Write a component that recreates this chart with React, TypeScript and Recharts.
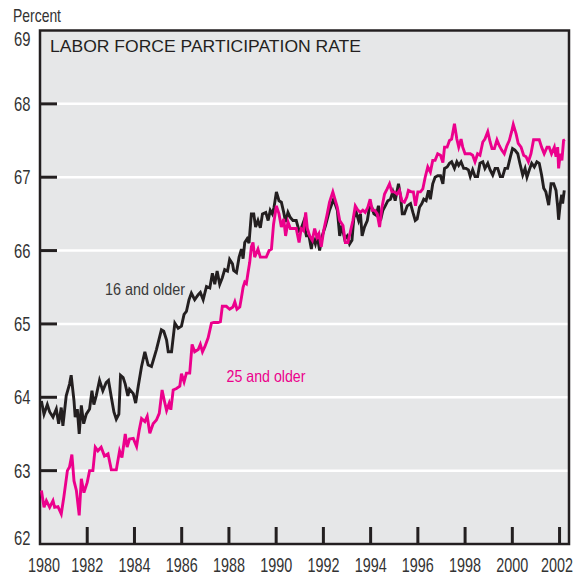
import { LineChart, Line, XAxis, YAxis, CartesianGrid, ReferenceArea } from "recharts";

// labor force participation rate, percent (decimal year, rate)
const rate16: [number, number][] = [
  [1980.06, 63.95], [1980.17, 63.77], [1980.31, 63.9], [1980.41, 63.8], [1980.55, 63.73],
  [1980.69, 63.84], [1980.79, 63.64], [1980.9, 63.86], [1980.97, 63.61], [1981.11, 64.02],
  [1981.25, 64.18], [1981.32, 64.3], [1981.44, 63.95], [1981.49, 63.73], [1981.58, 63.84],
  [1981.66, 63.5], [1981.75, 63.89], [1981.85, 63.64], [1981.96, 63.77], [1982.1, 63.84],
  [1982.2, 64.09], [1982.28, 63.9], [1982.38, 64.02], [1982.52, 64.23], [1982.66, 64.09],
  [1982.8, 64.2], [1982.9, 64.23], [1983.02, 64.0], [1983.13, 63.8], [1983.23, 63.7],
  [1983.34, 63.77], [1983.41, 64.3], [1983.52, 64.27], [1983.61, 64.18], [1983.72, 64.02],
  [1983.79, 64.11], [1983.95, 64.05], [1984.05, 63.92], [1984.16, 64.15], [1984.3, 64.42],
  [1984.44, 64.62], [1984.58, 64.44], [1984.72, 64.42], [1984.93, 64.65], [1985.14, 64.92],
  [1985.24, 64.9], [1985.36, 64.78], [1985.43, 64.62], [1985.57, 64.62], [1985.71, 65.01],
  [1985.85, 64.94], [1985.99, 64.97], [1986.1, 65.13], [1986.2, 65.17], [1986.31, 65.33],
  [1986.41, 65.42], [1986.55, 65.33], [1986.7, 65.4], [1986.79, 65.43], [1986.91, 65.33],
  [1987.05, 65.51], [1987.19, 65.49], [1987.3, 65.69], [1987.4, 65.54], [1987.5, 65.72],
  [1987.61, 65.54], [1987.72, 65.63], [1987.82, 65.74], [1987.94, 65.72], [1988.03, 65.88],
  [1988.15, 65.82], [1988.2, 65.73], [1988.32, 65.7], [1988.43, 65.91], [1988.53, 66.02],
  [1988.6, 65.89], [1988.67, 66.11], [1988.77, 66.16], [1988.85, 66.1], [1988.95, 66.5],
  [1989.05, 66.5], [1989.13, 66.32], [1989.23, 66.41], [1989.33, 66.31], [1989.42, 66.5],
  [1989.56, 66.52], [1989.66, 66.41], [1989.75, 66.55], [1989.84, 66.5], [1989.91, 66.59],
  [1990.01, 66.8], [1990.12, 66.68], [1990.22, 66.66], [1990.32, 66.52], [1990.4, 66.39],
  [1990.5, 66.52], [1990.6, 66.45], [1990.71, 66.41], [1990.85, 66.41], [1990.97, 66.27],
  [1991.06, 66.3], [1991.16, 66.39], [1991.28, 66.2], [1991.39, 66.2], [1991.49, 66.02],
  [1991.56, 66.18], [1991.66, 66.09], [1991.74, 66.2], [1991.84, 66.0], [1991.95, 66.2],
  [1992.09, 66.34], [1992.26, 66.55], [1992.43, 66.7], [1992.59, 66.55], [1992.69, 66.2],
  [1992.78, 66.34], [1992.9, 66.16], [1993.01, 66.2], [1993.11, 66.09], [1993.21, 66.14],
  [1993.29, 66.45], [1993.39, 66.52], [1993.49, 66.41], [1993.57, 66.5], [1993.64, 66.2],
  [1993.74, 66.32], [1993.86, 66.41], [1993.95, 66.59], [1994.05, 66.59], [1994.14, 66.5],
  [1994.24, 66.48], [1994.33, 66.61], [1994.42, 66.41], [1994.52, 66.55], [1994.62, 66.61],
  [1994.73, 66.68], [1994.84, 66.7], [1994.94, 66.8], [1995.04, 66.68], [1995.18, 66.91],
  [1995.27, 66.73], [1995.34, 66.5], [1995.43, 66.5], [1995.55, 66.61], [1995.69, 66.64],
  [1995.79, 66.52], [1995.89, 66.41], [1995.97, 66.43], [1996.07, 66.59], [1996.17, 66.64],
  [1996.25, 66.7], [1996.35, 66.68], [1996.45, 66.82], [1996.53, 66.7], [1996.63, 66.91],
  [1996.73, 67.0], [1996.84, 67.02], [1996.96, 67.02], [1997.06, 66.91], [1997.13, 67.12],
  [1997.24, 67.14], [1997.34, 67.19], [1997.43, 67.21], [1997.55, 67.12], [1997.65, 67.21],
  [1997.73, 67.16], [1997.83, 67.21], [1997.94, 67.12], [1998.04, 67.12], [1998.14, 67.1],
  [1998.22, 67.01], [1998.32, 67.1], [1998.42, 67.01], [1998.53, 67.01], [1998.63, 67.19],
  [1998.75, 67.21], [1998.84, 67.12], [1998.96, 67.19], [1999.06, 67.1], [1999.17, 67.03],
  [1999.27, 67.12], [1999.38, 67.12], [1999.49, 67.01], [1999.59, 67.01], [1999.69, 67.12],
  [1999.8, 67.12], [1999.92, 67.28], [2000.01, 67.39], [2000.11, 67.37], [2000.23, 67.32],
  [2000.32, 67.19], [2000.44, 67.03], [2000.54, 67.12], [2000.62, 67.0], [2000.72, 67.1],
  [2000.82, 67.19], [2000.93, 67.14], [2001.04, 67.21], [2001.14, 67.19], [2001.24, 67.03],
  [2001.33, 66.85], [2001.42, 66.8], [2001.54, 66.62], [2001.64, 66.91], [2001.75, 66.91],
  [2001.85, 66.82], [2001.92, 66.6], [2001.96, 66.42], [2002.03, 66.64], [2002.09, 66.76],
  [2002.13, 66.64], [2002.2, 66.82],
];

const rate25: [number, number][] = [
  [1980.06, 62.73], [1980.17, 62.5], [1980.27, 62.59], [1980.41, 62.5], [1980.55, 62.59],
  [1980.62, 62.5], [1980.76, 62.51], [1980.9, 62.41], [1981.01, 62.64], [1981.16, 63.0],
  [1981.25, 63.05], [1981.35, 63.22], [1981.44, 62.86], [1981.54, 62.73], [1981.66, 62.39],
  [1981.75, 62.89], [1981.86, 62.7], [1982.0, 62.84], [1982.1, 63.0], [1982.24, 63.0],
  [1982.34, 63.32], [1982.45, 63.27], [1982.59, 63.32], [1982.73, 63.2], [1982.88, 63.23],
  [1983.02, 63.01], [1983.23, 63.01], [1983.37, 63.27], [1983.47, 63.18], [1983.61, 63.5],
  [1983.69, 63.32], [1983.79, 63.43], [1983.95, 63.44], [1984.09, 63.33], [1984.2, 63.55],
  [1984.3, 63.71], [1984.44, 63.67], [1984.54, 63.74], [1984.65, 63.51], [1984.79, 63.64],
  [1984.93, 63.69], [1985.05, 63.78], [1985.17, 64.1], [1985.26, 63.96], [1985.36, 63.82],
  [1985.47, 63.92], [1985.54, 63.83], [1985.64, 64.1], [1985.78, 64.12], [1985.92, 64.15],
  [1985.99, 64.32], [1986.1, 64.21], [1986.2, 64.33], [1986.34, 64.33], [1986.44, 64.72],
  [1986.55, 64.62], [1986.7, 64.65], [1986.79, 64.72], [1986.88, 64.62], [1986.98, 64.69],
  [1987.12, 64.81], [1987.26, 65.01], [1987.36, 65.02], [1987.54, 65.02], [1987.64, 65.03],
  [1987.72, 65.24], [1987.89, 65.24], [1988.03, 65.2], [1988.17, 65.23], [1988.25, 65.3],
  [1988.34, 65.2], [1988.46, 65.23], [1988.53, 65.36], [1988.6, 65.5], [1988.67, 65.57],
  [1988.74, 65.55], [1988.81, 65.7], [1988.88, 65.84], [1988.95, 66.05], [1989.02, 66.11],
  [1989.09, 65.91], [1989.23, 66.02], [1989.33, 65.91], [1989.58, 65.91], [1989.7, 66.0],
  [1989.8, 66.02], [1989.89, 66.36], [1990.01, 66.61], [1990.12, 66.5], [1990.22, 66.32],
  [1990.32, 66.43], [1990.4, 66.2], [1990.5, 66.39], [1990.6, 66.3], [1990.85, 66.3],
  [1990.97, 66.11], [1991.06, 66.3], [1991.16, 66.27], [1991.25, 66.52], [1991.32, 66.3],
  [1991.42, 66.2], [1991.53, 66.14], [1991.63, 66.3], [1991.73, 66.18], [1991.81, 66.23],
  [1991.91, 66.05], [1992.01, 66.27], [1992.15, 66.48], [1992.26, 66.66], [1992.4, 66.8],
  [1992.59, 66.59], [1992.69, 66.41], [1992.83, 66.34], [1992.93, 66.11], [1993.04, 66.11],
  [1993.15, 66.27], [1993.25, 66.41], [1993.35, 66.61], [1993.46, 66.55], [1993.57, 66.52],
  [1993.67, 66.55], [1993.77, 66.52], [1993.88, 66.59], [1993.98, 66.7], [1994.07, 66.55],
  [1994.17, 66.55], [1994.28, 66.5], [1994.38, 66.32], [1994.48, 66.59], [1994.59, 66.77],
  [1994.7, 66.84], [1994.8, 66.91], [1994.9, 66.8], [1995.01, 66.8], [1995.12, 66.77],
  [1995.22, 66.82], [1995.32, 66.68], [1995.43, 66.66], [1995.53, 66.73], [1995.6, 66.82],
  [1995.72, 66.8], [1995.81, 66.8], [1995.9, 66.61], [1996.0, 66.8], [1996.11, 66.8],
  [1996.21, 66.84], [1996.31, 67.0], [1996.42, 67.14], [1996.53, 67.07], [1996.63, 67.23],
  [1996.73, 67.23], [1996.84, 67.32], [1996.96, 67.3], [1997.06, 67.2], [1997.13, 67.41],
  [1997.24, 67.41], [1997.34, 67.5], [1997.43, 67.52], [1997.55, 67.73], [1997.65, 67.52],
  [1997.73, 67.41], [1997.83, 67.52], [1997.9, 67.41], [1998.0, 67.32], [1998.22, 67.32],
  [1998.32, 67.3], [1998.42, 67.21], [1998.53, 67.32], [1998.63, 67.3], [1998.75, 67.48],
  [1998.84, 67.52], [1998.96, 67.62], [1999.06, 67.48], [1999.14, 67.39], [1999.24, 67.39],
  [1999.35, 67.51], [1999.45, 67.43], [1999.55, 67.37], [1999.66, 67.32], [1999.77, 67.43],
  [1999.87, 67.5], [1999.97, 67.62], [2000.04, 67.72], [2000.16, 67.59], [2000.25, 67.46],
  [2000.37, 67.41], [2000.48, 67.3], [2000.58, 67.28], [2000.68, 67.21], [2000.79, 67.32],
  [2000.9, 67.51], [2001.14, 67.51], [2001.24, 67.41], [2001.35, 67.32], [2001.47, 67.41],
  [2001.56, 67.41], [2001.66, 67.32], [2001.78, 67.41], [2001.85, 67.28], [2001.92, 67.41],
  [2001.96, 67.12], [2002.03, 67.32], [2002.1, 67.23], [2002.17, 67.5], [2002.23, 67.51],
];

const yearTicks = [1980, 1982, 1984, 1986, 1988, 1990, 1992, 1994, 1996, 1998, 2000, 2002];
const percentTicks = [62, 63, 64, 65, 66, 67, 68, 69];

const data16 = rate16.map(([year, rate]) => ({ year, rate }));
const data25 = rate25.map(([year, rate]) => ({ year, rate }));

const INK = "#231f20";
const MAGENTA = "#ec008c";
const FONT = "'Liberation Sans', Arial, Helvetica, sans-serif";
const X_MAX = 2002.4;

// no condensed face installed, so squeeze Liberation Sans horizontally
const YearTick = (props: any) => {
  const { x, y, payload } = props;
  const v = payload.value;
  // first and last labels sit a little inward, as in the original
  const nudge = v === 1980 ? 4 : v === 2002 ? -2.5 : 0;
  return (
    <g>
      {v !== 1980 && <line x1={x} x2={x} y1={y} y2={y - 17} stroke={INK} strokeWidth={3} />}
      <g transform={`translate(${x + nudge}, ${y + 27.5}) scale(0.72, 1)`}>
        <text x={0} y={0} textAnchor="middle" fontFamily={FONT} fontSize={20} fill="#333">
          {v}
        </text>
      </g>
    </g>
  );
};

const PercentTick = (props: any) => {
  const { x, y, payload } = props;
  const v = payload.value;
  const shift = v === 69 ? 15.2 : v === 62 ? 0.7 : 7.2;
  return (
    <g>
      {v !== 62 && v !== 69 && <line x1={x} x2={x + 17} y1={y} y2={y} stroke={INK} strokeWidth={3} />}
      <g transform={`translate(${x - 9.5}, ${y + shift}) scale(0.74, 1)`}>
        <text x={0} y={0} textAnchor="end" fontFamily={FONT} fontSize={20} fill="#333">
          {v}
        </text>
      </g>
    </g>
  );
};

export default function App() {
  return (
    <div style={{ position: "absolute", left: 0, top: 0, background: "#fff" }}>
      <LineChart width={584} height={576} margin={{ top: 30.5, right: 15, bottom: 0, left: 0 }}>
        <CartesianGrid vertical={false} stroke="#ffffff" strokeWidth={2.5} fill="#e6e7e8" fillOpacity={1} />
        <XAxis
          type="number"
          dataKey="year"
          domain={[1980, X_MAX]}
          ticks={yearTicks}
          allowDataOverflow
          height={32}
          tickSize={0}
          tickMargin={0}
          tickLine={false}
          axisLine={false}
          tick={<YearTick />}
          interval={0}
        />
        <YAxis
          type="number"
          domain={[62, 69]}
          ticks={percentTicks}
          allowDataOverflow
          width={40}
          tickSize={0}
          tickMargin={0}
          tickLine={false}
          axisLine={false}
          tick={<PercentTick />}
          interval={0}
        />
        <Line data={data16} dataKey="rate" type="linear" stroke={INK} strokeWidth={2.9} dot={false} isAnimationActive={false} />
        <Line data={data25} dataKey="rate" type="linear" stroke={MAGENTA} strokeWidth={2.9} dot={false} isAnimationActive={false} />
        <ReferenceArea x1={1980} x2={X_MAX} y1={62} y2={69} fill="none" stroke={INK} strokeWidth={2.5} ifOverflow="visible" />
        <text x={13} y={21.7} fontFamily={FONT} fontSize={18.5} textLength={48} lengthAdjust="spacingAndGlyphs" fill="#333">
          Percent
        </text>
        <text x={50} y={52} fontFamily={FONT} fontSize={17.3} textLength={311} lengthAdjust="spacingAndGlyphs" fill={INK}>
          LABOR FORCE PARTICIPATION RATE
        </text>
        <text x={105} y={295} fontFamily={FONT} fontSize={16.5} textLength={80} lengthAdjust="spacingAndGlyphs" fill="#3a3a3a">
          16 and older
        </text>
        <text x={226.5} y={381.5} fontFamily={FONT} fontSize={16.5} textLength={79} lengthAdjust="spacingAndGlyphs" fill={MAGENTA}>
          25 and older
        </text>
      </LineChart>
    </div>
  );
}
